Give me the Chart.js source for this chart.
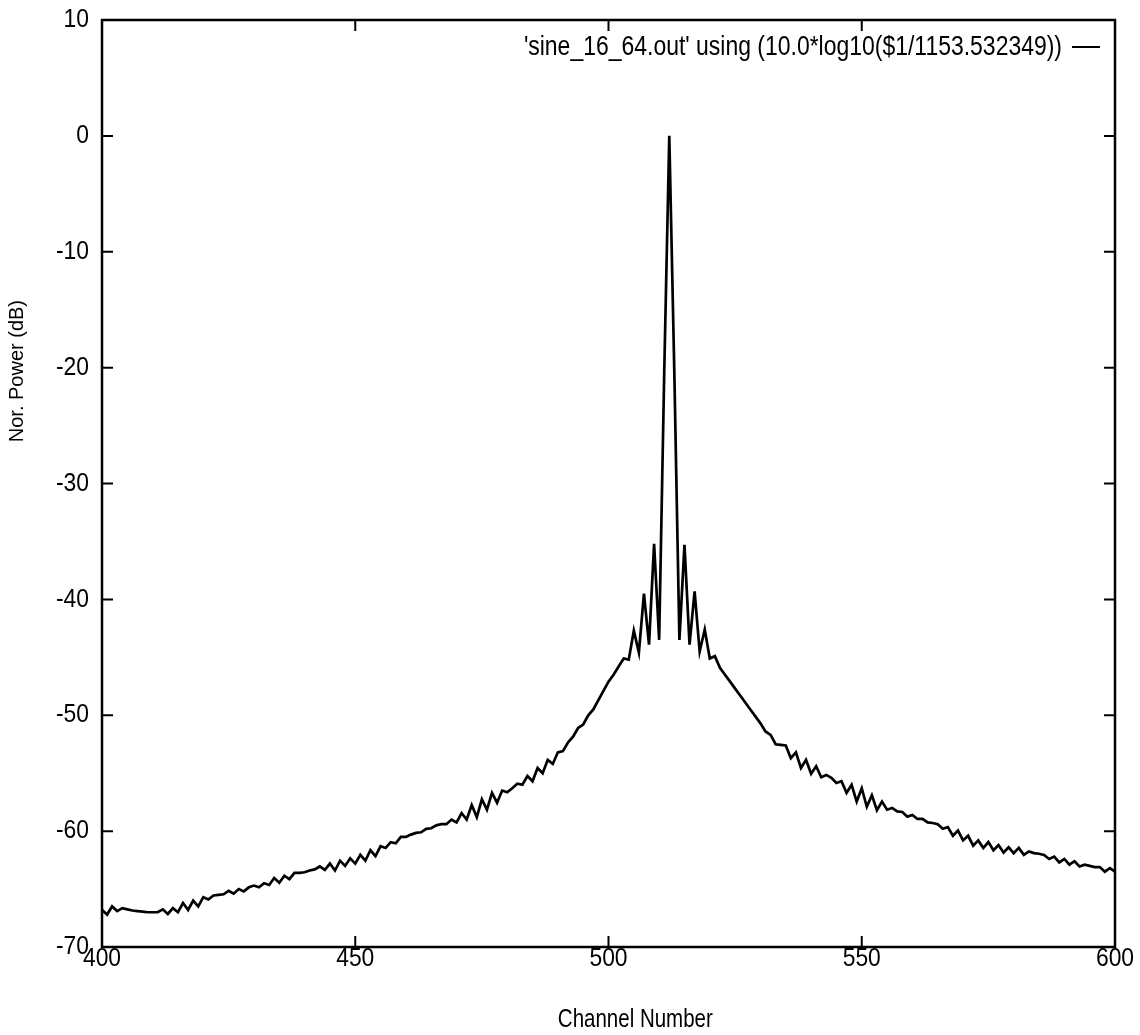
<!DOCTYPE html>
<html>
<head>
<meta charset="utf-8">
<script src="https://cdn.jsdelivr.net/npm/chart.js@4.4.1/dist/chart.umd.min.js"></script>
<style>
  html, body { margin: 0; padding: 0; background: #ffffff; }
  #wrap { width: 1140px; height: 1035px; position: relative; }
</style>
</head>
<body>
<div id="wrap"><canvas id="c" width="1140" height="1035"></canvas></div>
<script>
// ---- data ----
const channels = [
  400,401,402,403,404,405,406,407,408,409,
  410,411,412,413,414,415,416,417,418,419,
  420,421,422,423,424,425,426,427,428,429,
  430,431,432,433,434,435,436,437,438,439,
  440,441,442,443,444,445,446,447,448,449,
  450,451,452,453,454,455,456,457,458,459,
  460,461,462,463,464,465,466,467,468,469,
  470,471,472,473,474,475,476,477,478,479,
  480,481,482,483,484,485,486,487,488,489,
  490,491,492,493,494,495,496,497,498,499,
  500,501,502,503,504,505,506,507,508,509,
  510,511,512,513,514,515,516,517,518,519,
  520,521,522,523,524,525,526,527,528,529,
  530,531,532,533,534,535,536,537,538,539,
  540,541,542,543,544,545,546,547,548,549,
  550,551,552,553,554,555,556,557,558,559,
  560,561,562,563,564,565,566,567,568,569,
  570,571,572,573,574,575,576,577,578,579,
  580,581,582,583,584,585,586,587,588,589,
  590,591,592,593,594,595,596,597,598,599,
  600
];
const power = [
  -66.8,-67.2,-66.5,-66.9,-66.65,-66.75,-66.85,-66.9,-66.95,-67.0,
  -67.0,-67.0,-66.75,-67.15,-66.65,-67.0,-66.2,-66.8,-66.0,-66.5,
  -65.7,-65.9,-65.55,-65.5,-65.45,-65.15,-65.4,-65.0,-65.2,-64.85,
  -64.7,-64.85,-64.5,-64.65,-64.05,-64.45,-63.85,-64.15,-63.6,-63.6,
  -63.55,-63.4,-63.3,-63.05,-63.35,-62.8,-63.4,-62.55,-63.0,-62.35,
  -62.8,-62.05,-62.55,-61.65,-62.15,-61.3,-61.45,-60.95,-61.05,-60.5,
  -60.5,-60.3,-60.15,-60.1,-59.8,-59.75,-59.5,-59.4,-59.4,-59.0,
  -59.25,-58.45,-59.0,-57.75,-58.8,-57.25,-58.15,-56.7,-57.55,-56.5,
  -56.65,-56.3,-55.9,-56.0,-55.25,-55.7,-54.55,-55.0,-53.85,-54.2,
  -53.2,-53.1,-52.35,-51.85,-51.1,-50.8,-50.0,-49.5,-48.7,-47.9,
  -47.1,-46.5,-45.8,-45.1,-45.2,-42.7,-44.6,-39.5,-43.9,-35.2,
  -43.5,-20.5,0,-20.5,-43.5,-35.3,-43.9,-39.3,-44.5,-42.6,
  -45.1,-44.9,-45.9,-46.5,-47.1,-47.7,-48.3,-48.9,-49.5,-50.1,
  -50.7,-51.4,-51.7,-52.5,-52.55,-52.6,-53.7,-53.2,-54.55,-53.85,
  -55.05,-54.4,-55.35,-55.15,-55.4,-55.85,-55.7,-56.7,-56.0,-57.45,
  -56.3,-57.9,-56.9,-58.2,-57.45,-58.15,-58.0,-58.3,-58.35,-58.75,
  -58.6,-58.95,-58.95,-59.25,-59.3,-59.4,-59.8,-59.65,-60.4,-59.95,
  -60.8,-60.4,-61.25,-60.8,-61.45,-60.95,-61.65,-61.2,-61.85,-61.4,
  -61.9,-61.45,-62.05,-61.75,-61.9,-61.95,-62.05,-62.4,-62.2,-62.7,
  -62.4,-62.9,-62.6,-63.05,-62.9,-63.0,-63.1,-63.1,-63.5,-63.2,
  -63.5
];
const xTicks = [400, 450, 500, 550, 600];
const yTicks = [10, 0, -10, -20, -30, -40, -50, -60, -70];
const seriesLabel = "'sine_16_64.out' using (10.0*log10($1/1153.532349))";
const xTitle = 'Channel Number';
const yTitle = 'Nor. Power (dB)';

const SANS = '"Liberation Sans", Arial, Helvetica, sans-serif';
const NARROW_X = 0.82; // horizontal squeeze to imitate Helvetica Narrow
const TICK_X = 0.88;

const points = channels.map((c, i) => ({ x: c, y: power[i] }));

function squeezedText(ctx, text, x, y, size, align, sx) {
  ctx.save();
  ctx.translate(x, y);
  ctx.scale(sx, 1);
  ctx.font = size + 'px ' + SANS;
  ctx.textAlign = align;
  ctx.textBaseline = 'middle';
  ctx.fillStyle = '#000';
  ctx.fillText(text, 0, 0);
  ctx.restore();
}

// frame, inward ticks on all four sides, tick labels, titles and the in-plot key
const framePlugin = {
  id: 'framePlugin',
  afterDatasetsDraw(chart) {
    const { ctx, chartArea: a, scales } = chart;
    const xs = scales.x, ys = scales.y;
    const L = 11;
    ctx.save();
    ctx.strokeStyle = '#000';
    ctx.lineWidth = 2.5;
    ctx.strokeRect(a.left, a.top, a.right - a.left, a.bottom - a.top);
    ctx.lineWidth = 2;
    ctx.beginPath();
    yTicks.forEach(v => {
      const py = ys.getPixelForValue(v);
      ctx.moveTo(a.left, py); ctx.lineTo(a.left + L, py);
      ctx.moveTo(a.right, py); ctx.lineTo(a.right - L, py);
    });
    xTicks.forEach(v => {
      const px = xs.getPixelForValue(v);
      ctx.moveTo(px, a.bottom); ctx.lineTo(px, a.bottom - L);
      ctx.moveTo(px, a.top); ctx.lineTo(px, a.top + L);
    });
    ctx.stroke();
    ctx.restore();

    // tick labels
    yTicks.forEach(v => {
      squeezedText(ctx, String(v), a.left - 13, ys.getPixelForValue(v), 26, 'right', TICK_X);
    });
    xTicks.forEach(v => {
      squeezedText(ctx, String(v), xs.getPixelForValue(v), a.bottom + 12, 26, 'center', TICK_X);
    });

    // axis titles
    squeezedText(ctx, xTitle, xs.getPixelForValue(505.3), a.bottom + 73, 25, 'center', NARROW_X);
    ctx.save();
    ctx.translate(17, ys.getPixelForValue(-20.3));
    ctx.rotate(-Math.PI / 2);
    ctx.font = '20px ' + SANS;
    ctx.textAlign = 'center';
    ctx.textBaseline = 'middle';
    ctx.fillStyle = '#000';
    ctx.fillText(yTitle, 0, 0);
    ctx.restore();

    // key
    const ky = a.top + 27;
    const lineR = a.right - 15;
    const lineL = lineR - 28;
    squeezedText(ctx, seriesLabel, lineL - 10, ky, 28, 'right', NARROW_X);
    ctx.save();
    ctx.strokeStyle = '#000';
    ctx.lineWidth = 2;
    ctx.beginPath();
    ctx.moveTo(lineL, ky); ctx.lineTo(lineR, ky);
    ctx.stroke();
    ctx.restore();
  }
};

new Chart(document.getElementById('c'), {
  type: 'line',
  data: {
    datasets: [{
      label: seriesLabel,
      data: points,
      borderColor: '#000',
      borderWidth: 2.7,
      pointRadius: 0,
      tension: 0,
      fill: false
    }]
  },
  options: {
    responsive: false,
    animation: false,
    layout: { padding: { top: 20, right: 25, left: 0, bottom: 0 } },
    plugins: {
      legend: { display: false },
      tooltip: { enabled: false },
      title: { display: false }
    },
    scales: {
      x: {
        type: 'linear',
        min: 400, max: 600,
        afterFit(s) { s.height = 88; },
        afterBuildTicks(s) { s.ticks = xTicks.map(v => ({ value: v })); },
        grid: { display: false },
        border: { display: false },
        ticks: { display: false },
        title: { display: false }
      },
      y: {
        type: 'linear',
        min: -70, max: 10,
        afterFit(s) { s.width = 102; },
        afterBuildTicks(s) { s.ticks = yTicks.map(v => ({ value: v })); },
        grid: { display: false },
        border: { display: false },
        ticks: { display: false },
        title: { display: false }
      }
    }
  },
  plugins: [framePlugin]
});
</script>
</body>
</html>
